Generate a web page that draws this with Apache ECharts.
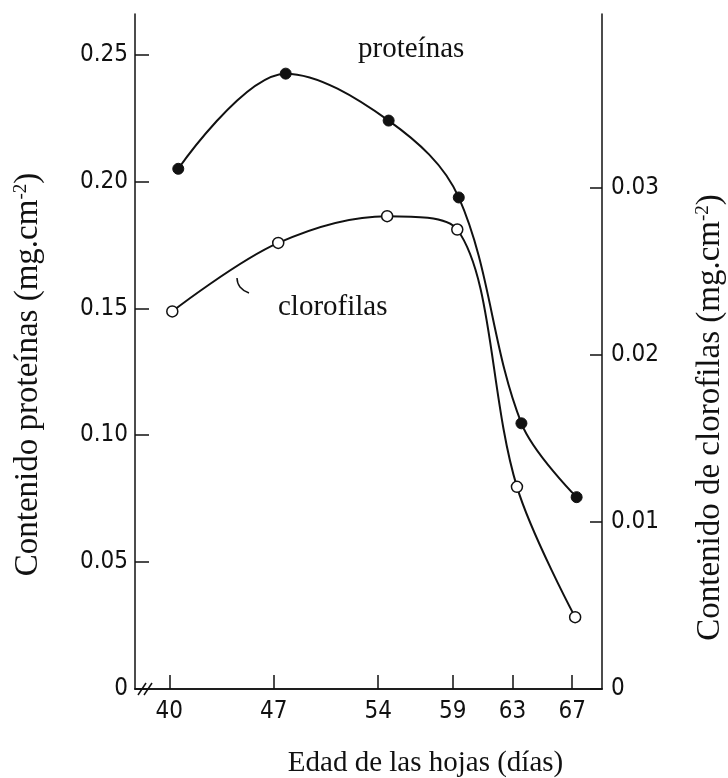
<!DOCTYPE html>
<html>
<head>
    <meta charset="utf-8">
    <title>Proteínas y clorofilas</title>
    <script src="https://cdn.jsdelivr.net/npm/echarts@6/dist/echarts.min.js"></script>
    <style>
        body { margin: 0; background: #fff; }
    </style>
</head>
<body>
    <div id="main" style="width: 728px;height:778px;"></div>
    <script type="text/javascript">
    // datos
    var dayTicks = [40, 47, 54, 59, 63, 67];
    var protTicks = [0, 0.05, 0.10, 0.15, 0.20, 0.25];
    var clorTicks = [0, 0.01, 0.02, 0.03];

    var protDays = [40.6, 47.8, 54.7, 59.4, 63.6, 67.3];
    var protValues = [0.205, 0.2425, 0.224, 0.1937, 0.1047, 0.0756];

    var clorDays = [40.2, 47.3, 54.6, 59.3, 63.3, 67.2];
    var clorValues = [0.0226, 0.0267, 0.0283, 0.0275, 0.0121, 0.0043];

    var numFont = "'DejaVu Sans Condensed', 'Liberation Sans Narrow', 'DejaVu Sans', sans-serif";
    var serif = "'Liberation Serif', 'DejaVu Serif', serif";
    var ink = '#111';

    function pairs(xs, ys) {
        var out = [];
        for (var i = 0; i < xs.length; i++) out.push([xs[i], ys[i]]);
        return out;
    }
    function fmt(v) {
        return v === 0 ? '0' : v.toFixed(2);
    }

    var myChart = echarts.init(document.getElementById('main'));

    var option = {
        backgroundColor: '#fff',
        animation: false,
        grid: { left: 135, right: 126, top: 14, bottom: 89, outerBoundsMode: 'none', containLabel: false },
        xAxis: [{
            type: 'value',
            min: 37.7,
            max: 69,
            name: 'Edad de las hojas (días)',
            nameLocation: 'middle',
            nameGap: 60,
            nameTextStyle: { fontFamily: serif, fontSize: 29, color: ink, padding: [0, 0, 0, 114] },
            splitLine: { show: false },
            axisLine: { lineStyle: { color: ink, width: 1.5 } },
            axisTick: { inside: true, length: 14, customValues: dayTicks, lineStyle: { color: ink, width: 1.5 } },
            axisLabel: { customValues: dayTicks, margin: 11, fontFamily: numFont, fontSize: 24, color: ink }
        }, {
            type: 'value',
            position: 'top',
            min: 37.7,
            max: 69,
            splitLine: { show: false },
            axisLine: { show: true, lineStyle: { color: ink, width: 1.5 } },
            axisTick: { show: false },
            axisLabel: { show: false }
        }],
        yAxis: [{
            type: 'value',
            min: 0,
            max: 0.266,
            position: 'left',
            name: 'Contenido proteínas (mg.cm{sup|-2})',
            nameLocation: 'middle',
            nameRotate: 90,
            nameGap: 90,
            nameTextStyle: {
                fontFamily: serif, fontSize: 33, color: ink, padding: [0, 46, 0, 0],
                rich: { sup: { fontFamily: serif, fontSize: 19, color: ink, verticalAlign: 'top' } }
            },
            splitLine: { show: false },
            axisLine: { show: true, lineStyle: { color: ink, width: 1.5 } },
            axisTick: { inside: true, length: 14, customValues: protTicks, lineStyle: { color: ink, width: 1.5 } },
            axisLabel: { customValues: protTicks, formatter: fmt, margin: 7, fontFamily: numFont, fontSize: 24, color: ink }
        }, {
            type: 'value',
            min: 0,
            max: 0.0404,
            position: 'right',
            name: 'Contenido de clorofilas (mg.cm{sup|-2})',
            nameLocation: 'middle',
            nameRotate: 90,
            nameGap: 92,
            nameTextStyle: {
                fontFamily: serif, fontSize: 33, color: ink, padding: [0, 132, 0, 0],
                rich: { sup: { fontFamily: serif, fontSize: 19, color: ink, verticalAlign: 'top' } }
            },
            splitLine: { show: false },
            axisLine: { show: true, lineStyle: { color: ink, width: 1.5 } },
            axisTick: { inside: true, length: 12, customValues: clorTicks, lineStyle: { color: ink, width: 1.5 } },
            axisLabel: { customValues: clorTicks, formatter: fmt, margin: 9, fontFamily: numFont, fontSize: 24, color: ink }
        }],
        graphic: [
            { type: 'text', left: 358, top: 35, style: { text: 'proteínas', font: '29px ' + serif, fill: ink } },
            { type: 'text', left: 278, top: 293, style: { text: 'clorofilas', font: '29px ' + serif, fill: ink } },
            { type: 'polyline', shape: { points: [[237, 278], [240, 287], [249, 293]], smooth: 0.5 }, style: { stroke: ink, lineWidth: 1.5, fill: null } },
            { type: 'line', shape: { x1: 138, y1: 695, x2: 146, y2: 683 }, style: { stroke: ink, lineWidth: 1.5 } },
            { type: 'line', shape: { x1: 144, y1: 695, x2: 152, y2: 683 }, style: { stroke: ink, lineWidth: 1.5 } }
        ],
        series: [{
            name: 'proteínas',
            type: 'line',
            xAxisIndex: 0,
            yAxisIndex: 0,
            smooth: 0.35,
            symbol: 'circle',
            symbolSize: 11,
            lineStyle: { color: ink, width: 2 },
            itemStyle: { color: ink, borderColor: ink },
            data: pairs(protDays, protValues)
        }, {
            name: 'clorofilas',
            type: 'line',
            xAxisIndex: 0,
            yAxisIndex: 1,
            smooth: 0.35,
            symbol: 'circle',
            symbolSize: 11,
            lineStyle: { color: ink, width: 2 },
            itemStyle: { color: '#fff', borderColor: ink, borderWidth: 1.5 },
            data: pairs(clorDays, clorValues)
        }]
    };

    myChart.setOption(option);
    </script>
</body>
</html>
